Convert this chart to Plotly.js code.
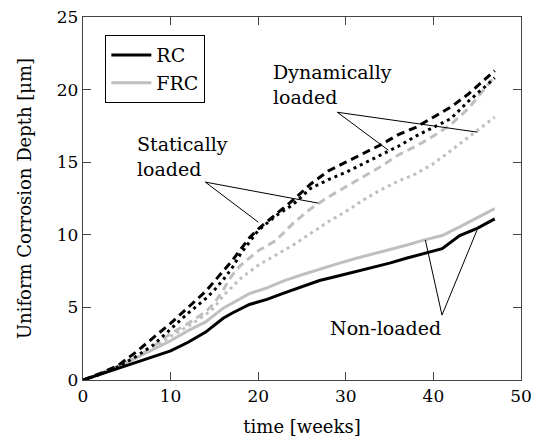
<!DOCTYPE html>
<html>
<head>
<meta charset="utf-8">
<script src="https://cdn.plot.ly/plotly-3.0.1.min.js"></script>
<style>html,body{margin:0;padding:0;background:#fff;}#chart{width:539px;height:444px;}</style>
</head>
<body>
<div id="chart"></div>
<script>
// RC, non-loaded (black solid)
const rcNonX = [0,1,3,5,7,10,12,14,16,17,19,21,23,25,27,29,31,33,35,37,39,41,43,45,47];
const rcNonY = [0,0.2,0.55,0.95,1.4,2.0,2.6,3.3,4.25,4.6,5.2,5.55,6.0,6.4,6.85,7.15,7.45,7.7,8.05,8.4,8.75,9.05,9.95,10.45,11.1];
// FRC, non-loaded (gray solid)
const frcNonX = [0,2,4,6,8,10,12,14,16,17,19,21,23,25,27,29,31,33,35,37,39,41,43,45,47];
const frcNonY = [0,0.45,0.95,1.5,2.1,2.7,3.4,4.0,4.95,5.3,5.95,6.35,6.85,7.25,7.65,8.0,8.35,8.65,9.0,9.3,9.65,9.95,10.55,11.15,11.8];
// RC, statically loaded (black dashed)
const rcStatX = [0,2,4,6,8,10,12,14,15,16,17,18,19,20,22,24,26,28,30,32,34,36,38,40,42,44,46,47];
const rcStatY = [0,0.45,1.0,1.9,2.9,3.9,5.0,6.1,6.8,7.5,8.2,9.0,9.8,10.4,11.4,12.4,13.5,14.4,15.0,15.6,16.2,16.9,17.4,18.1,18.8,19.7,20.8,21.3];
// RC, dynamically loaded (black dotted)
const rcDynX = [0,2,4,6,8,10,12,14,15,16,17,18,19,20,22,24,26,28,30,32,34,36,38,40,42,44,46,47];
const rcDynY = [0,0.4,0.9,1.6,2.4,3.5,4.6,5.6,6.2,6.9,7.7,8.7,9.5,10.3,11.3,12.1,13.2,13.8,14.3,14.9,15.5,16.1,16.8,17.4,18.0,19.2,20.3,20.8];
// FRC, statically loaded (gray dashed)
const frcStatX = [0,2,4,6,8,10,12,14,15,16,17,18,20,22,24,26,28,30,32,34,36,38,40,42,44,46,47];
const frcStatY = [0,0.4,0.9,1.5,2.3,3.2,3.9,4.7,5.3,6.2,7.2,7.9,8.9,9.6,10.8,11.8,12.6,13.3,14.0,14.7,15.5,16.1,16.8,17.6,18.7,20.2,20.9];
// FRC, dynamically loaded (gray dotted)
const frcDynX = [0,2,4,6,8,10,12,14,15,16,18,20,22,24,26,28,30,32,34,36,38,40,42,44,46,47];
const frcDynY = [0,0.4,0.9,1.5,2.2,3.0,3.7,4.5,5.0,5.8,7.0,7.9,8.6,9.3,10.1,10.9,11.6,12.4,13.1,13.7,14.2,14.9,15.8,16.7,17.6,18.1];

const legendNames = ['RC','FRC'];
const annoTexts = ['Statically<br>loaded','Dynamically<br>loaded','Non-loaded'];

const BLACK = '#000000', GRAY = '#bfbfbf';
const FONT = 'DejaVu Serif';
const W = 3;

const traces = [
  {x: frcDynX, y: frcDynY, mode:'lines', line:{color:GRAY, width:W, dash:'3px,4px'}, showlegend:false},
  {x: frcStatX, y: frcStatY, mode:'lines', line:{color:GRAY, width:W, dash:'8px,5px'}, showlegend:false},
  {x: frcNonX, y: frcNonY, mode:'lines', name: legendNames[1], line:{color:GRAY, width:W}, showlegend:true, legendrank:2},
  {x: rcDynX, y: rcDynY, mode:'lines', line:{color:BLACK, width:W, dash:'3px,4px'}, showlegend:false},
  {x: rcStatX, y: rcStatY, mode:'lines', line:{color:BLACK, width:W, dash:'8px,5px'}, showlegend:false},
  {x: rcNonX, y: rcNonY, mode:'lines', name: legendNames[0], line:{color:BLACK, width:W}, showlegend:true, legendrank:1}
];

function seg(x0,y0,x1,y1){
  return {type:'line', xref:'x', yref:'y', x0:x0, y0:y0, x1:x1, y1:y1, line:{color:'#000', width:1}};
}
const tickF = {family:FONT, size:17, color:'#000'};
const titleF = {family:FONT, size:18, color:'#000'};
const textF = {family:FONT, size:19, color:'#000'};

const layout = {
  width:539, height:444,
  margin:{l:83, r:18, t:17, b:64},
  paper_bgcolor:'#fff', plot_bgcolor:'#fff',
  font:textF,
  xaxis:{
    range:[0,50], dtick:10, tick0:0, ticks:'inside', ticklen:8, tickwidth:1, tickcolor:'#444',
    showline:true, linecolor:'#444', linewidth:1.3, mirror:'ticks', showgrid:false, zeroline:false,
    tickfont:tickF,
    title:{text:'time [weeks]', font:titleF, standoff:15}
  },
  yaxis:{
    range:[0,25], dtick:5, tick0:0, ticks:'inside', ticklen:8, tickwidth:1, tickcolor:'#444',
    showline:true, linecolor:'#444', linewidth:1.3, mirror:'ticks', showgrid:false, zeroline:false,
    tickfont:tickF,
    title:{text:'Uniform Corrosion Depth [μm]', font:titleF, standoff:20}
  },
  legend:{
    x:0.051, y:0.95, xanchor:'left', yanchor:'top', itemwidth:40,
    bordercolor:'#000', borderwidth:1, bgcolor:'#fff',
    font:textF, tracegroupgap:0
  },
  shapes:[
    seg(13.96,13.63,20.01,10.87), seg(13.96,13.63,26.86,12.18),
    seg(29.03,18.44,34.85,15.83), seg(29.03,18.44,45.01,17.07),
    seg(40.98,4.47,39.08,9.64), seg(40.98,4.47,44.98,10.32)
  ],
  annotations:[
    {x:5.97, y:15.38, xref:'x', yref:'y', text:annoTexts[0], showarrow:false, xanchor:'left', yanchor:'middle', align:'left', font:textF},
    {x:21.46, y:20.34, xref:'x', yref:'y', text:annoTexts[1], showarrow:false, xanchor:'left', yanchor:'middle', align:'left', font:textF},
    {x:28.0, y:3.55, xref:'x', yref:'y', text:annoTexts[2], showarrow:false, xanchor:'left', yanchor:'middle', align:'left', font:textF}
  ]
};

Plotly.newPlot('chart', traces, layout, {staticPlot:true, displayModeBar:false});
</script>
</body>
</html>
